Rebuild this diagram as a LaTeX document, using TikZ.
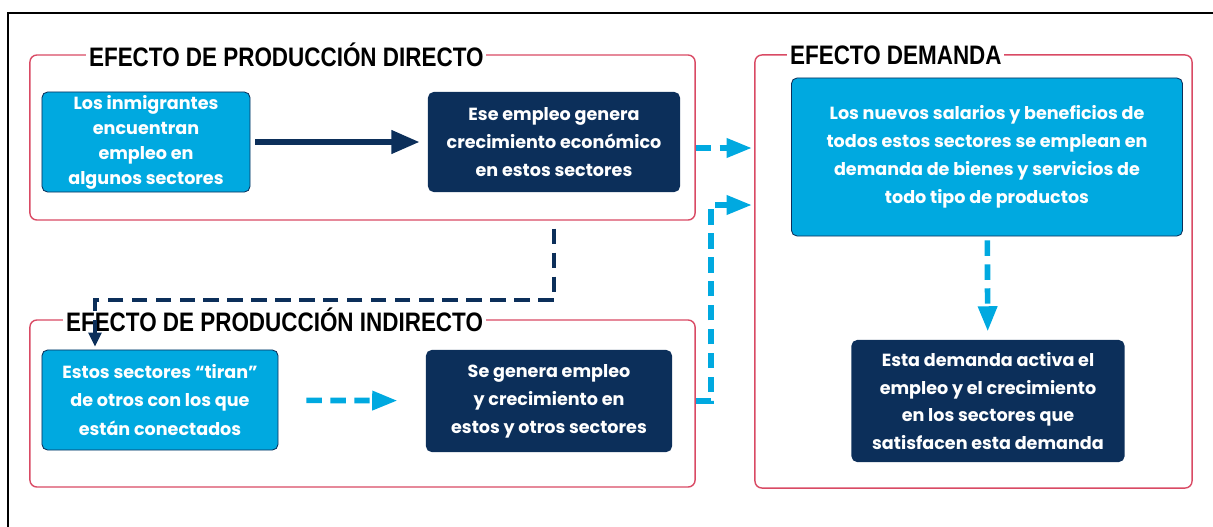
\documentclass[tikz,border=0pt]{standalone}
\usepackage{fontspec}
\setmainfont{Poppins}
\newfontfamily\titlefont{Liberation Sans}[FakeStretch=0.84]
\definecolor{mCyan}{HTML}{00A9E0}
\definecolor{mNavy}{HTML}{0C2F5A}
\definecolor{mRed}{HTML}{D94A64}
\usetikzlibrary{arrows.meta, positioning}

\begin{document}
\begin{tikzpicture}[x=0.025cm, y=-0.025cm,
		group/.style={rectangle, draw=mRed, line width=1pt, rounded corners=5pt},
		title/.style={fill=white, inner xsep=2pt, inner ysep=0pt, anchor=west,
			font=\titlefont\bfseries\fontsize{19}{19}\selectfont},
		lightbox/.style={rectangle, rounded corners=4pt, draw=mNavy, line width=0.6pt,
			fill=mCyan, text=white, align=center, inner sep=0pt,
			font=\bfseries\fontsize{12.5}{20}\selectfont},
		darkbox/.style={lightbox, draw=none, fill=mNavy},
		cyanlink/.style={draw=mCyan, line width=4pt, dash pattern=on 11pt off 6pt,
			-{Triangle[length=18pt, width=13pt]}},
		navylink/.style={draw=mNavy, line width=3.5pt, dash pattern=on 11pt off 6pt,
			-{Triangle[length=10pt, width=9pt]}}]
		%-------------------------------------------------------------------------------
		% frame
		%-------------------------------------------------------------------------------
		\useasboundingbox (0,0) rectangle (1213,527);
		\draw[line width=1.5pt] (8,527) |- (1213,13);
		
		% groups
		\node[group, minimum width=16.625cm, minimum height=4.125cm] (gdir) 
			at (362.5,137.5) {};
		\node[group, minimum width=16.625cm, minimum height=4.175cm] (gind) 
			at (362.5,403.5) {};
		\node[group, minimum width=10.925cm, minimum height=10.825cm] (gdem) 
			at (973.5,271.5) {};
		\node[title] (tdir) at (86,55) {EFECTO DE PRODUCCIÓN DIRECTO};
		\node[title] (tind) at (63,320) {EFECTO DE PRODUCCIÓN INDIRECTO};
		\node[title] (tdem) at (787,55) {EFECTO DEMANDA};
		
		% core nodes
		\node[lightbox, minimum width=5.2cm, minimum height=2.5cm,
			font=\bfseries\fontsize{12.5}{17.8}\selectfont] (immig) 
			at (146,142) {Los inmigrantes\\encuentran\\empleo en\\algunos sectores};
		\node[darkbox, minimum width=6.3cm, minimum height=2.5cm] (growth) 
			at (554,142) {Ese empleo genera\\crecimiento económico\\en estos sectores};
		\node[lightbox, minimum width=5.9cm, minimum height=2.5cm] (pull) 
			at (160,400) {Estos sectores “tiran”\\de otros con los que\\están conectados};
		\node[darkbox, minimum width=6.15cm, minimum height=2.55cm] (spread) 
			at (549,401) {Se genera empleo\\y crecimiento en\\estos y otros sectores};
		\node[lightbox, minimum width=9.775cm, minimum height=3.95cm] (wages) 
			at (987,157) {Los nuevos salarios y beneficios de\\todos estos sectores se emplean en\\demanda de bienes y servicios de\\todo tipo de productos};
		\node[darkbox, minimum width=6.825cm, minimum height=3.05cm,
			font=\bfseries\fontsize{12.5}{19.5}\selectfont] (active) 
			at (988,401) {Esta demanda activa el\\empleo y el crecimiento\\en los sectores que\\satisfacen esta demanda};
		
		% direct
		\draw[mNavy, line width=4pt, -{Triangle[length=20pt, width=16pt]},
			shorten <=0.125cm, shorten >=0.2cm] (immig) -- (growth);
		\coordinate (toDem1) at (752,148);
		\draw[cyanlink] (gdir.east |- toDem1) -- (toDem1);
		% indirect
		\coordinate (bend) at (95,300);
		\draw[navylink, shorten <=0.2cm] (growth.south |- gdir.south) |- (bend) 
			-- ([yshift=2pt]bend |- pull.north);
		\draw[cyanlink, shorten <=0.7cm, shorten >=0.7cm] (pull) -- (spread);
		\coordinate (toDem2) at (752,205);
		\draw[cyanlink] (gind.east |- spread.east) -- ++(15,0) |- (toDem2);
		% demand
		\draw[cyanlink, shorten <=0.1cm, shorten >=0.2cm] (wages) -- (active);
\end{tikzpicture}
\end{document}
